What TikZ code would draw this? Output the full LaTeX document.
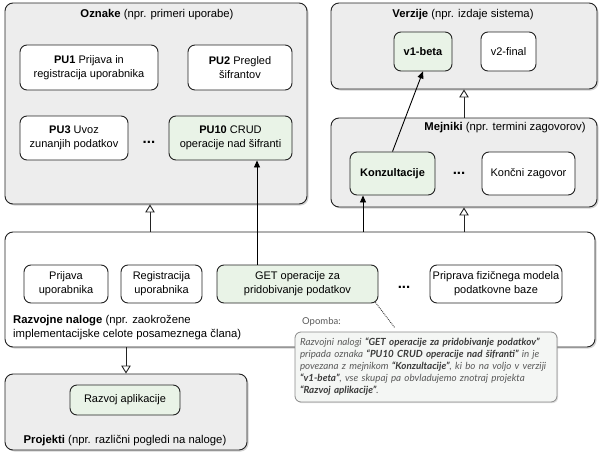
\documentclass[tikz,border=0pt]{standalone}
\usepackage{fontspec}
\setmainfont{Liberation Sans}
\newfontfamily\notefont{Lato}
\usetikzlibrary{arrows.meta,shadows}
\definecolor{boxgray}{HTML}{EDEDED}
\definecolor{lgreen}{HTML}{E9F3E7}
\definecolor{notefill}{HTML}{F4F6F4}
\definecolor{noteborder}{HTML}{8A8A8A}
\definecolor{notetext}{HTML}{5A5A5A}
\definecolor{notebold}{HTML}{3A3A3A}
\definecolor{linecol}{HTML}{222222}
\tikzset{
 outer/.style={draw=linecol, line width=0.9pt, rounded corners=8pt, fill=boxgray,
   drop shadow={shadow xshift=1.5pt, shadow yshift=-1.5pt, opacity=0.35}, inner sep=0pt},
 whiteouter/.style={outer, fill=white},
 itembox/.style={draw=linecol, line width=0.9pt, rounded corners=7pt, fill=white, align=center,
   inner sep=2pt, font=\fontsize{11}{14}\selectfont},
 greenbox/.style={itembox, fill=lgreen},
 boxtitle/.style={font=\fontsize{11.3}{14.5}\selectfont, inner sep=0pt},
 dotsnode/.style={font=\fontsize{15}{15}\selectfont\bfseries, inner sep=0pt},
 inh/.style={draw=linecol, line width=0.9pt, -{Triangle[open, length=8pt, width=9.5pt, fill=white]}},
 arr/.style={draw=black, line width=0.9pt, -{Triangle[length=7pt, width=6pt]}},
 notebox/.style={draw=noteborder, line width=0.8pt, rounded corners=6pt, fill=notefill,
   drop shadow={shadow xshift=1.2pt, shadow yshift=-1.2pt, opacity=0.25},
   align=left, text=notetext, inner sep=5pt, font=\notefont\itshape\fontsize{9.8}{12}\selectfont},
 notelabel/.style={text=notetext, inner sep=0pt, font=\notefont\fontsize{9.5}{10}\selectfont},
 noteline/.style={draw=black!80, line width=0.9pt, densely dotted}
}
\newcommand{\nb}[1]{\textbf{\color{notebold}#1}}
\begin{document}
\begin{tikzpicture}[x=1pt,y=-1pt]
\useasboundingbox (0,0) rectangle (600,458);
% outer containers
\node[outer, minimum width=302pt, minimum height=201pt] (oz) at (156,103.5) {};
\node[outer, minimum width=266pt, minimum height=86pt] (ver) at (464,46) {};
\node[outer, minimum width=266pt, minimum height=89pt] (mej) at (464,162.5) {};
\node[whiteouter, minimum width=590pt, minimum height=115pt] (razv) at (300,289.5) {};
\node[outer, minimum width=242pt, minimum height=76pt] (proj) at (126,412) {};
% titles
\node[boxtitle] (tOz) at (157,15) {\textbf{Oznake} (npr. primeri uporabe)};
\node[boxtitle] (tVer) at (463,15) {\textbf{Verzije} (npr. izdaje sistema)};
\node[boxtitle] (tMej) at (505,128) {\textbf{Mejniki} (npr. termini zagovorov)};
\node[boxtitle, anchor=west, align=left] (tRazv) at (13,327.5) {\textbf{Razvojne naloge} (npr. zaokrožene\\implementacijske celote posameznega člana)};
\node[boxtitle] (tProj) at (125,441) {\textbf{Projekti} (npr. različni pogledi na naloge)};
% Oznake items
\node[itembox, minimum width=138pt, minimum height=45pt] (pu1) at (89,67.5) {\textbf{PU1} Prijava in\\registracija uporabnika};
\node[itembox, minimum width=104pt, minimum height=45pt] (pu2) at (240,67.5) {\textbf{PU2} Pregled\\šifrantov};
\node[itembox, minimum width=108pt, minimum height=44pt] (pu3) at (74,138) {\textbf{PU3} Uvoz\\zunanjih podatkov};
\node[greenbox, minimum width=123pt, minimum height=44pt] (pu10) at (230.5,138) {\textbf{PU10} CRUD\\operacije nad šifranti};
\node[dotsnode] (d1) at (149,142) {...};
% Verzije items
\node[greenbox, minimum width=58pt, minimum height=39pt] (v1) at (423,51.5) {\textbf{v1-beta}};
\node[itembox, minimum width=55pt, minimum height=39pt] (v2) at (508.5,51.5) {v2-final};
% Mejniki items
\node[greenbox, minimum width=85pt, minimum height=43pt] (kon) at (392.5,173.5) {\textbf{Konzultacije}};
\node[itembox, minimum width=93pt, minimum height=43pt] (konc) at (528.5,173.5) {Končni zagovor};
\node[dotsnode] (d2) at (459,173) {...};
% Razvojne naloge items
\node[itembox, minimum width=84pt, minimum height=38pt] (prij) at (66,284) {Prijava\\uporabnika};
\node[itembox, minimum width=81pt, minimum height=38pt] (reg) at (161.5,284) {Registracija\\uporabnika};
\node[greenbox, minimum width=161pt, minimum height=38pt] (get) at (297.5,284) {GET operacije za\\pridobivanje podatkov};
\node[itembox, minimum width=132pt, minimum height=38pt] (prip) at (496,284) {Priprava fizičnega modela\\podatkovne baze};
\node[dotsnode] (d3) at (404,287) {...};
% Projekti item
\node[greenbox, minimum width=110pt, minimum height=30pt] (rapp) at (125,400) {Razvoj aplikacije};
% connectors
\coordinate (cOz) at (150,0);
\coordinate (cGet) at (257,0);
\coordinate (cKon) at (363,0);
\draw[inh] (razv.north -| cOz) -- (oz.south -| cOz);
\draw[inh] (razv.north -| mej.south) -- (mej.south);
\draw[inh] (mej.north) -- (ver.south);
\draw[inh] (razv.south -| proj.north) -- (proj.north);
\draw[arr] (get.north -| cGet) -- (pu10.south -| cGet);
\draw[arr] (razv.north -| cKon) -- (kon.south -| cKon);
\draw[arr] (kon.north) -- (v1.south);
% note
\node[notelabel, anchor=west] (opl) at (302,322) {Opomba:};
\node[notebox, minimum width=262pt, minimum height=70pt, text width=252pt] (note) at (426,367) {Razvojni nalogi \nb{“GET operacije za pridobivanje podatkov”}\\pripada oznaka \nb{“PU10 CRUD operacije nad šifranti”} in je\\povezana z mejnikom \nb{“Konzultacije”}, ki bo na voljo v verziji\\\nb{“v1-beta”}, vse skupaj pa obvladujemo znotraj projekta\\\nb{“Razvoj aplikacije”}.};
\coordinate (noteEnd) at (395,328);
\draw[noteline] ([xshift=-3pt,yshift=1pt]get.south east) -- (noteEnd);
\end{tikzpicture}
\end{document}
